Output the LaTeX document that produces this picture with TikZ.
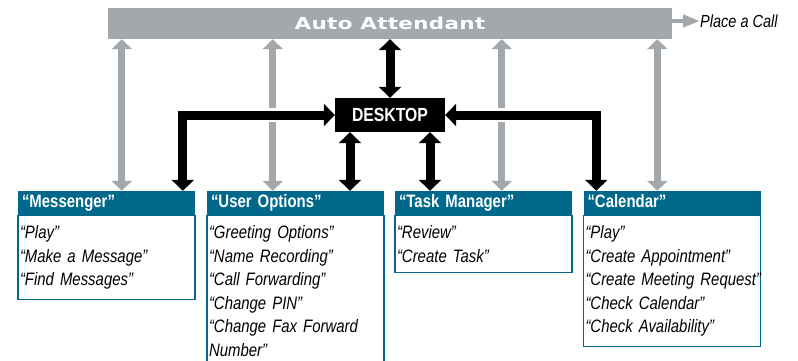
\documentclass[tikz,border=0pt]{standalone}
\usepackage{fontspec}
\setmainfont{Liberation Sans}
\newfontfamily\narrowfont[FakeStretch=0.83]{Liberation Sans}
\newfontfamily\widefont[FakeStretch=1.3,LetterSpace=2]{DejaVu Sans}
\usetikzlibrary{arrows.meta,positioning}
\definecolor{attgray}{RGB}{162,168,172}
\definecolor{boxteal}{RGB}{0,104,139}
\tikzset{
    aabar/.style={
        fill=attgray,
        minimum width=564pt,
        minimum height=31pt,
        inner sep=0pt,
        text=white,
        font=\widefont\bfseries\fontsize{16.5}{16.5}\selectfont
    },
    callnote/.style={
        anchor=west,
        inner sep=0pt,
        font=\narrowfont\itshape\fontsize{17.5}{18}\selectfont
    },
    desk/.style={
        fill=black,
        text=white,
        minimum width=110pt,
        minimum height=34pt,
        inner sep=0pt,
        font=\narrowfont\bfseries\fontsize{19}{19}\selectfont
    },
    head/.style={
        fill=boxteal,
        text=white,
        text width=169pt,
        align=left,
        inner xsep=4pt,
        inner ysep=0pt,
        minimum height=24pt,
        text height=13pt,
        text depth=4pt,
        font=\narrowfont\bfseries\fontsize{18}{18}\selectfont
    },
    itembox/.style={
        draw=boxteal,
        line width=1.2pt,
        text width=173pt,
        align=left,
        inner xsep=2pt,
        inner ysep=10pt,
        font=\narrowfont\itshape\fontsize{18}{23.5}\selectfont
    },
    grayarrow/.style={
        draw=attgray,
        line width=7pt,
        {Triangle[width=20pt,length=10pt]}-{Triangle[width=20pt,length=10pt]}
    },
    blackarrow/.style={
        draw=black,
        line width=9pt,
        {Triangle[width=22pt,length=11pt]}-{Triangle[width=22pt,length=11pt]}
    },
    whitegap/.style={
        preaction={draw=white,line width=14pt,-}
    },
    callarrow/.style={
        draw=attgray,
        line width=4.5pt,
        -{Triangle[width=12pt,length=17pt]}
    }
}

\begin{document}
\begin{tikzpicture}[x=1pt,y=-1pt]
\useasboundingbox (0,0) rectangle (798,360);
\node[aabar] (aa) at (390,23.5) {Auto Attendant};
\node[callnote] (call) at (700,21) {Place a Call};
\node[desk] (desk) at (390,115) {DESKTOP};

\node[head] (msghead) at (106.5,203) {“Messenger”};
\node[itembox,below=0pt of msghead] (msglist) {“Play”\\“Make a Message”\\“Find Messages”};
\node[head] (opthead) at (295.5,203) {“User Options”};
\node[itembox,below=0pt of opthead] (optlist) {“Greeting Options”\\“Name Recording”\\“Call Forwarding”\\“Change PIN”\\“Change Fax Forward\\Number”};
\node[head] (taskhead) at (483.5,203) {“Task Manager”};
\node[itembox,below=0pt of taskhead] (tasklist) {“Review”\\“Create Task”};
\node[head] (calhead) at (672,203) {“Calendar”};
\node[itembox,below=0pt of calhead] (callist) {“Play”\\“Create Appointment”\\\mbox{“Create Meeting Request”}\\“Check Calendar”\\“Check Availability”};

\coordinate (msggray) at ([xshift=104pt]msghead.north west);
\coordinate (optgray) at ([xshift=66pt]opthead.north west);
\coordinate (taskgray) at ([xshift=107pt]taskhead.north west);
\coordinate (calgray) at ([xshift=74pt]calhead.north west);
\coordinate (msgblack) at ([xshift=165pt]msghead.north west);
\coordinate (optblack) at ([xshift=-40pt]desk.south);
\coordinate (taskblack) at ([xshift=40pt]desk.south);
\coordinate (calblack) at ([xshift=13pt]calhead.north west);

\draw[callarrow] (aa.east |- call.west) -- (call.west);
\foreach \g in {msggray,optgray,taskgray,calgray}
  \draw[grayarrow] (\g) -- (\g |- aa.south);

\draw[blackarrow] (desk.north) -- (desk.north |- aa.south);
\draw[blackarrow] (optblack) -- (optblack |- opthead.north);
\draw[blackarrow] (taskblack) -- (taskblack |- taskhead.north);
\draw[blackarrow,whitegap] (msgblack) -- (msgblack |- desk.west) -- (desk.west);
\draw[blackarrow,whitegap] (calblack) -- (calblack |- desk.east) -- (desk.east);
\end{tikzpicture}
\end{document}
